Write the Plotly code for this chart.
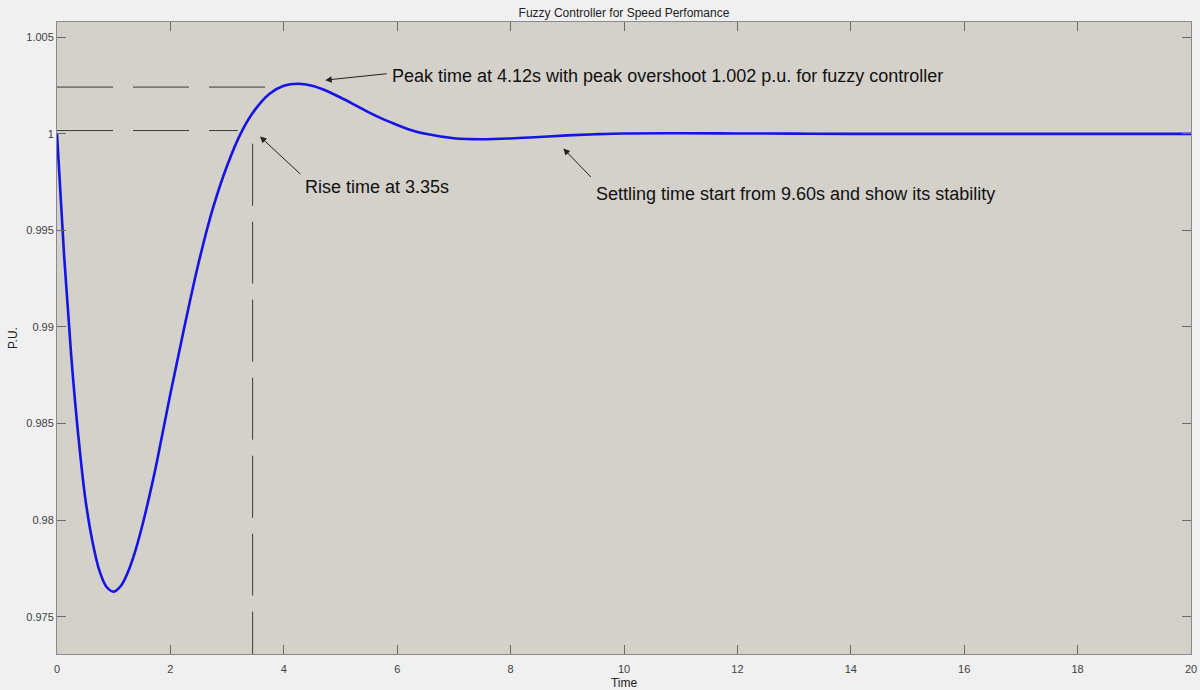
import plotly.graph_objects as go

# Speed response of the fuzzy controller (time in s, speed in p.u.)
time_s = [0, 0.125, 0.25, 0.375, 0.5, 0.625, 0.75, 0.875, 1.0, 1.125, 1.25, 1.375,
          1.5, 1.625, 1.75, 2.0, 2.25, 2.5, 2.75, 3.0, 3.25, 3.5, 3.75, 4.0, 4.25,
          4.5, 4.75, 5.0, 5.25, 5.5, 5.75, 6.0, 6.25, 6.5, 7.0, 7.5, 8.0, 8.5, 9.0,
          9.5, 10.0, 11.0, 12.0, 13.0, 14.0, 16.0, 18.0, 20.0]
speed_pu = [1.0, 0.99371, 0.98853, 0.98439, 0.98110, 0.97890, 0.97737, 0.97654,
            0.97630, 0.97659, 0.97730, 0.97834, 0.97967, 0.98119, 0.98285, 0.98655,
            0.99005, 0.99335, 0.99615, 0.99835, 1.00008, 1.00128, 1.00208, 1.00249,
            1.00259, 1.00249, 1.00223, 1.00188, 1.00150, 1.00111, 1.00076, 1.00046,
            1.00019, 1.00000, 0.99977, 0.99972, 0.99976, 0.99984, 0.99992, 0.99998,
            1.00002, 1.00003, 1.00002, 1.00001, 1.0, 1.0, 1.0, 1.0]

x_ticks = [0, 2, 4, 6, 8, 10, 12, 14, 16, 18, 20]
y_ticks = [0.975, 0.98, 0.985, 0.99, 0.995, 1.0, 1.005]
y_tick_text = ["0.975", "0.98", "0.985", "0.99", "0.995", "1", "1.005"]

peak_level = 1.00242
rise_level = 1.00017
rise_marker_t = 3.45

fig = go.Figure()
fig.add_trace(go.Scatter(
    x=time_s, y=speed_pu, mode="lines", line_shape="spline",
    line=dict(color="#1414e6", width=2.6, smoothing=1.0), showlegend=False,
))

dash_style = dict(color="#3c3c3c", width=1, dash="56px,20px")
fig.add_shape(type="line", xref="x", yref="y", x0=0, x1=3.94,
              y0=peak_level, y1=peak_level, line=dash_style)
fig.add_shape(type="line", xref="x", yref="y", x0=0, x1=3.19,
              y0=rise_level, y1=rise_level, line=dash_style)
fig.add_shape(type="line", xref="x", yref="y", x0=rise_marker_t, x1=rise_marker_t,
              y0=0.99949, y1=0.97307, line=dict(color="#3c3c3c", width=1, dash="62px,16px"))

ann_font = dict(family="Liberation Sans, Arial", size=18, color="#111111")
arrows = [
    (4.73, 1.00278, 5.84, 1.00312),
    (3.58, 0.99986, 4.32, 0.99784),
    (8.93, 0.99924, 9.44, 0.99769),
]
for hx, hy, tx, ty in arrows:
    fig.add_annotation(x=hx, y=hy, ax=tx, ay=ty, xref="x", yref="y",
                       axref="x", ayref="y", text="", showarrow=True,
                       arrowhead=2, arrowsize=1.3, arrowwidth=1, arrowcolor="#222222")

labels = [
    (5.88, 1.00302, "Peak time at 4.12s with peak overshoot 1.002 p.u. for fuzzy controller"),
    (4.33, 0.99727, "Rise time at 3.35s"),
    (9.47, 0.99686, "Settling time start from 9.60s and show its stability"),
]
for lx, ly, txt in labels:
    fig.add_annotation(x=lx, y=ly, xref="x", yref="y", text=txt, showarrow=False,
                       xanchor="left", yanchor="middle", font=ann_font)

axis_common = dict(
    showgrid=False, zeroline=False, showline=True, linecolor="#8a8a8a",
    linewidth=1, mirror="ticks", ticks="inside", ticklen=9, tickcolor="#6a6a6a",
    automargin=False,
    tickfont=dict(family="Liberation Sans, Arial", size=11, color="#404040"),
)

fig.update_layout(
    width=1200, height=690,
    margin=dict(l=57, r=9, t=22, b=36),
    paper_bgcolor="#f0f0f0", plot_bgcolor="#d4d0ca",
    title=dict(text="Fuzzy Controller for Speed Perfomance", x=0.52, xanchor="center",
               y=0.982, yanchor="middle", automargin=False,
               font=dict(family="Liberation Sans, Arial", size=12, color="#222222")),
    xaxis=dict(range=[0, 20], tickvals=x_ticks, ticktext=[str(v) for v in x_ticks],
               ticklabelstandoff=5,
               title=dict(text="Time", standoff=4,
                          font=dict(family="Liberation Sans, Arial", size=12, color="#222222")),
               **axis_common),
    yaxis=dict(range=[0.97307, 1.00579], tickvals=y_ticks, ticktext=y_tick_text,
               title=dict(text="P.U.", standoff=6,
                          font=dict(family="Liberation Sans, Arial", size=12, color="#222222")),
               **axis_common),
)

fig.write_html("out.html")
